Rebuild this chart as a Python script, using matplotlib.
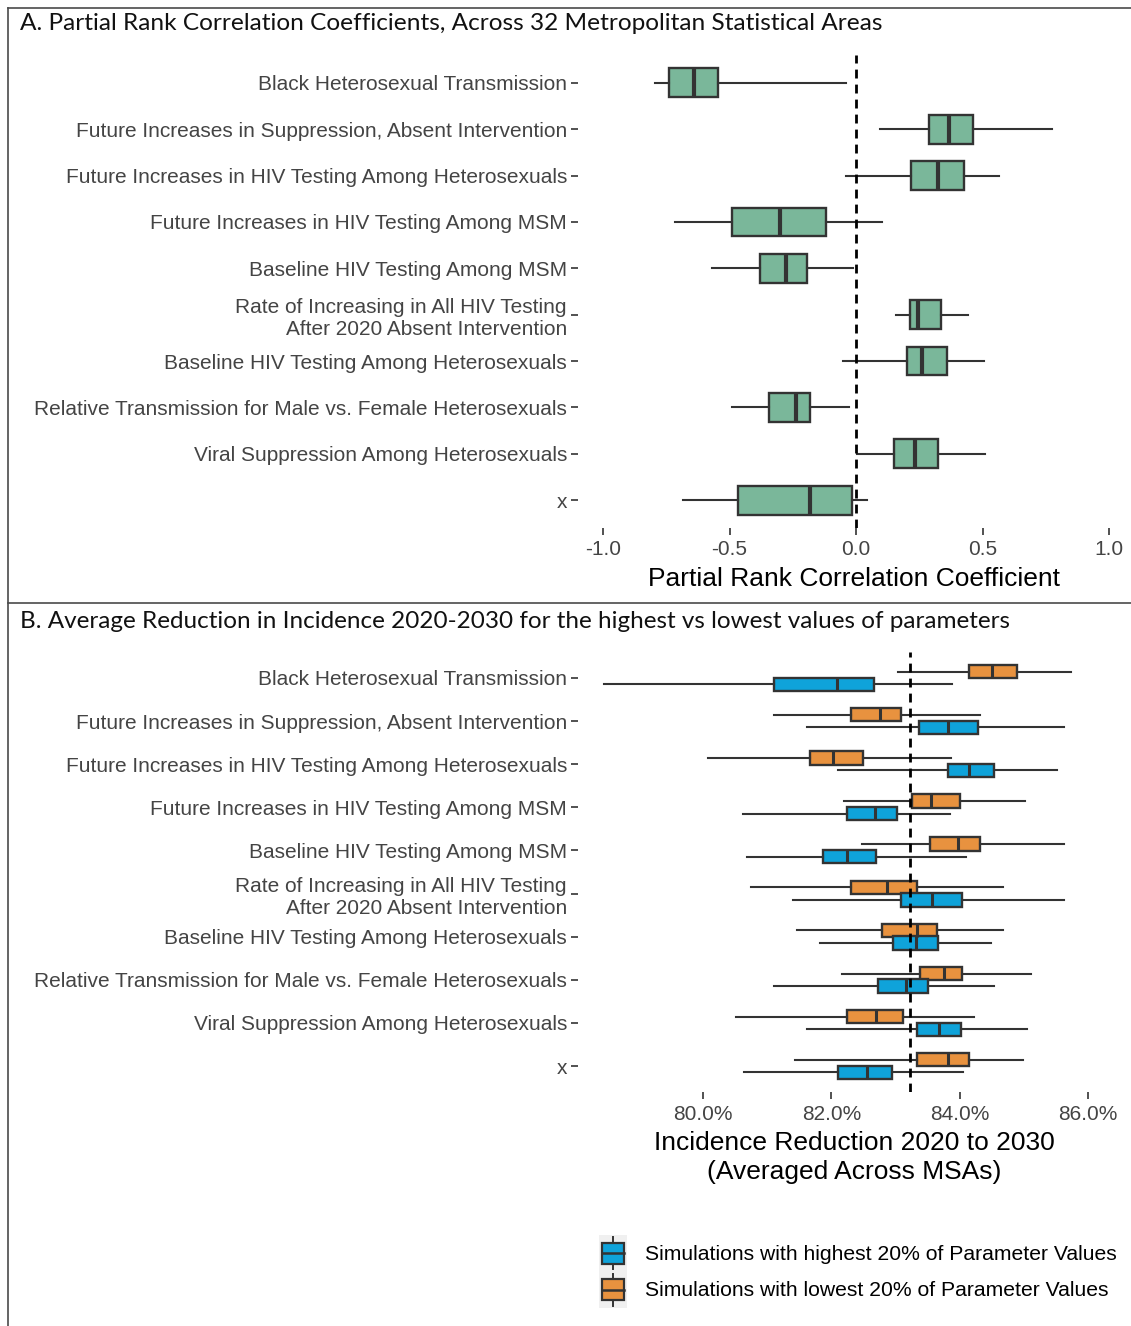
import matplotlib
matplotlib.use("Agg")
import matplotlib.pyplot as plt
from matplotlib.legend_handler import HandlerBase
from matplotlib.patches import Patch, Rectangle
from matplotlib.lines import Line2D

plt.rcParams["font.family"] = ["Liberation Sans", "DejaVu Sans"]

# row labels, top to bottom
params = [
    "Black Heterosexual Transmission",
    "Future Increases in Suppression, Absent Intervention",
    "Future Increases in HIV Testing Among Heterosexuals",
    "Future Increases in HIV Testing Among MSM",
    "Baseline HIV Testing Among MSM",
    "Rate of Increasing in All HIV Testing\nAfter 2020 Absent Intervention",
    "Baseline HIV Testing Among Heterosexuals",
    "Relative Transmission for Male vs. Female Heterosexuals",
    "Viral Suppression Among Heterosexuals",
    "x",
]

# panel A: [whisker low, q1, median, q3, whisker high]
prcc_stats = [
    [-0.796, -0.738, -0.640, -0.544, -0.039],
    [0.094, 0.289, 0.367, 0.462, 0.773],
    [-0.040, 0.216, 0.324, 0.427, 0.564],
    [-0.715, -0.491, -0.302, -0.118, 0.102],
    [-0.571, -0.380, -0.276, -0.193, -0.010],
    [0.157, 0.214, 0.245, 0.334, 0.443],
    [-0.050, 0.203, 0.260, 0.360, 0.506],
    [-0.492, -0.344, -0.237, -0.183, -0.029],
    [0.004, 0.150, 0.233, 0.324, 0.508],
    [-0.685, -0.465, -0.180, -0.016, 0.045],
]
prcc_ticks = [-1.0, -0.5, 0.0, 0.5, 1.0]
prcc_ticklabels = ["-1.0", "-0.5", "0.0", "0.5", "1.0"]

# panel B: incidence reduction (%), lowest 20% and highest 20% of parameter values
low_stats = [
    [83.04, 84.14, 84.50, 84.90, 85.74],
    [81.10, 82.30, 82.76, 83.08, 84.32],
    [80.08, 81.66, 82.02, 82.50, 83.87],
    [82.19, 83.25, 83.56, 84.01, 85.01],
    [82.47, 83.54, 83.98, 84.32, 85.63],
    [80.75, 82.30, 82.86, 83.33, 84.67],
    [81.46, 82.79, 83.33, 83.64, 84.67],
    [82.17, 83.38, 83.76, 84.03, 85.11],
    [80.51, 82.24, 82.70, 83.12, 84.23],
    [81.43, 83.34, 83.82, 84.14, 84.98],
]
high_stats = [
    [78.46, 81.11, 82.08, 82.66, 83.88],
    [81.62, 83.37, 83.82, 84.28, 85.62],
    [82.10, 83.82, 84.15, 84.53, 85.52],
    [80.62, 82.24, 82.68, 83.03, 83.85],
    [80.68, 81.87, 82.24, 82.70, 84.10],
    [81.40, 83.08, 83.57, 84.04, 85.62],
    [81.83, 82.96, 83.32, 83.66, 84.49],
    [81.11, 82.72, 83.16, 83.51, 84.53],
    [81.62, 83.33, 83.68, 84.02, 85.05],
    [80.64, 82.10, 82.56, 82.95, 84.05],
]
overall_mean = 83.22
inc_ticks = [80.0, 82.0, 84.0, 86.0]
inc_ticklabels = ["80.0%", "82.0%", "84.0%", "86.0%"]

green = "#7AB79A"
blue = "#0FA3DA"
orange = "#E8923F"
dark = "#333333"


def to_bxp(rows):
    return [dict(whislo=r[0], q1=r[1], med=r[2], q3=r[3], whishi=r[4], fliers=[]) for r in rows]


def draw_boxes(ax, rows, pos, width, color, medlw):
    ax.bxp(to_bxp(rows), positions=pos, widths=width, orientation="horizontal",
           patch_artist=True, showcaps=False, showfliers=False,
           boxprops=dict(facecolor=color, edgecolor=dark, linewidth=1.7),
           medianprops=dict(color=dark, linewidth=medlw),
           whiskerprops=dict(color=dark, linewidth=1.5))


def style_axis(ax):
    for s in ax.spines.values():
        s.set_visible(False)
    ax.tick_params(axis="both", length=5, width=1.2, color=dark,
                   labelsize=15, labelcolor="#444444", pad=3)
    ax.tick_params(axis="x", pad=4)


W, H = 1131, 1326
fig = plt.figure(figsize=(W / 100, H / 100), dpi=100)

ypos = list(range(len(params)))
dash = (0, (3.2, 2.2))

# ---- panel A
ax1 = fig.add_axes([578 / W, 1 - 528 / H, (W - 578) / W, 473 / H])
draw_boxes(ax1, prcc_stats, ypos, 0.62, green, 3.0)
ax1.axvline(0, color="black", linewidth=2.0, linestyle=dash, zorder=5)
ax1.set_xlim(-1.099, 1.087)
ax1.set_ylim(len(params) - 0.4, -0.6)
ax1.set_yticks(ypos, params)
ax1.set_xticks(prcc_ticks, prcc_ticklabels)
ax1.set_xlabel("Partial Rank Correlation Coefficient", fontsize=19, labelpad=5.5)
style_axis(ax1)

# ---- panel B
ax2 = fig.add_axes([578 / W, 1 - 1092 / H, (W - 578) / W, 440 / H])
draw_boxes(ax2, low_stats, [p - 0.147 for p in ypos], 0.31, orange, 2.2)
draw_boxes(ax2, high_stats, [p + 0.147 for p in ypos], 0.31, blue, 2.2)
ax2.axvline(overall_mean, color="black", linewidth=2.0, linestyle=dash, zorder=5)
ax2.set_xlim(78.05, 86.67)
ax2.set_ylim(len(params) - 0.4, -0.6)
ax2.set_yticks(ypos, params)
ax2.set_xticks(inc_ticks, inc_ticklabels)
ax2.set_xlabel("Incidence Reduction 2020 to 2030\n(Averaged Across MSAs)", fontsize=19,
               labelpad=5.5, linespacing=1.28)
style_axis(ax2)


class BoxKey(HandlerBase):
    def create_artists(self, legend, orig_handle, xdescent, ydescent, width, height, fontsize, trans):
        x0, y0 = -xdescent, -ydescent
        bg = Rectangle((x0, y0), width, height, facecolor="#F0F0F0", edgecolor="none", transform=trans)
        bw, bh = width * 0.82, height * 0.58
        bx, by = x0 + (width - bw) / 2, y0 + (height - bh) / 2
        box = Rectangle((bx, by), bw, bh, facecolor=orig_handle.get_facecolor(),
                        edgecolor=dark, linewidth=1.6, transform=trans)
        cx = x0 + width / 2
        med = Line2D([bx, bx + bw], [by + bh / 2] * 2, color=dark, linewidth=1.8, transform=trans)
        w1 = Line2D([cx, cx], [by + bh, y0 + height * 0.94], color=dark, linewidth=1.4, transform=trans)
        w2 = Line2D([cx, cx], [y0 + height * 0.06, by], color=dark, linewidth=1.4, transform=trans)
        return [bg, box, med, w1, w2]


handles = [Patch(facecolor=blue), Patch(facecolor=orange)]
labels = ["Simulations with highest 20% of Parameter Values",
          "Simulations with lowest 20% of Parameter Values"]
fig.legend(handles, labels, handler_map={Patch: BoxKey()}, loc="upper left",
           bbox_to_anchor=(599 / W, 1 - 1235 / H), frameon=False, fontsize=15.2,
           handlelength=1.32, handleheight=2.28, labelspacing=0.0, handletextpad=0.85,
           borderpad=0, borderaxespad=0)

# panel titles and frame
fig.text(20 / W, 1 - 24 / H,
         "A. Partial Rank Correlation Coefficients, Across 32 Metropolitan Statistical Areas",
         family=["Lato", "DejaVu Sans"], fontsize=17.6, va="center", ha="left", color="#111111")
fig.text(20 / W, 1 - 621 / H,
         "B. Average Reduction in Incidence 2020-2030 for the highest vs lowest values of parameters",
         family=["Lato", "DejaVu Sans"], fontsize=17.5, va="center", ha="left", color="#111111")
fc = "#4A4A4A"
fig.add_artist(Line2D([8 / W, 1], [1 - 8 / H] * 2, color=fc, linewidth=1.2, transform=fig.transFigure))
fig.add_artist(Line2D([8 / W, 1], [1 - 603 / H] * 2, color=fc, linewidth=1.2, transform=fig.transFigure))
fig.add_artist(Line2D([8 / W] * 2, [0, 1 - 8 / H], color=fc, linewidth=1.2, transform=fig.transFigure))

fig.savefig("out.png", dpi=100)
